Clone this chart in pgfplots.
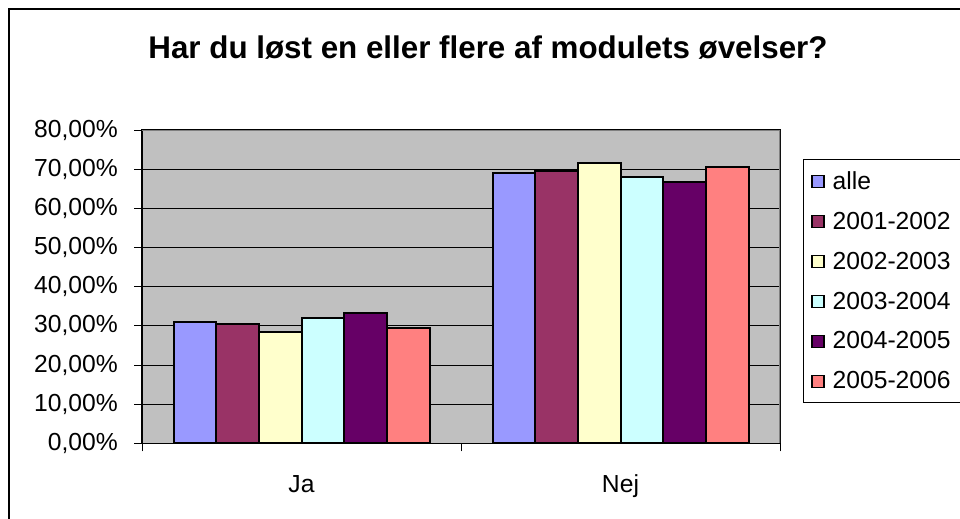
\documentclass[border=0pt]{standalone}
\usepackage{pgfplots}
\pgfplotsset{compat=1.18}
\usepackage{fontspec}
\setmainfont{Liberation Sans}
\definecolor{c1}{HTML}{9999FF}
\definecolor{c2}{HTML}{993366}
\definecolor{c3}{HTML}{FFFFCC}
\definecolor{c4}{HTML}{CCFFFF}
\definecolor{c5}{HTML}{660066}
\definecolor{c6}{HTML}{FF8080}
\definecolor{bgray}{HTML}{C0C0C0}
\definecolor{bord}{HTML}{808080}
\begin{document}
\begin{tikzpicture}[x=0.75pt,y=0.75pt]
\useasboundingbox (0,0) rectangle (960,518);
\clip (0,0) rectangle (960,518);
\draw[line width=1.6pt] (9,-10) -- (9,509) -- (975,509);
\node[anchor=base,font=\bfseries\fontsize{23.5}{28}\selectfont] at (488,459) {Har du løst en eller flere af modulets øvelser?};
\begin{axis}[
  at={(106.5pt,56pt)}, anchor=south west,
  scale only axis, width=478.5pt, height=235pt,
  ybar=0pt, bar width=32pt,
  xmin=-0.5, xmax=1.5, ymin=0, ymax=80,
  ytick={0,10,...,80},
  xtick={-0.5,0.5,1.5}, xticklabels={},
  extra x ticks={0,1}, extra x tick labels={Ja,Nej},
  extra x tick style={major tick length=0pt, grid=none},
  xtick pos=bottom, ytick pos=left,
  tick align=outside, major tick length=6pt,
  tick style={black, line width=0.75pt},
  ymajorgrids, grid style={black, line width=0.75pt},
  axis background/.style={fill=bgray},
  axis line style={black, line width=0.9pt},
  font=\fontsize{18.5}{22}\selectfont,
  /pgf/number format/assume math mode=true,
  yticklabel={\pgfmathprintnumber[fixed,fixed zerofill,precision=2,use comma]{\tick}\%},
  yticklabel style={anchor=east, inner sep=0pt, xshift=-12pt},
  xticklabel style={anchor=base, inner sep=0pt, yshift=-37pt},
  legend style={at={(1.036,0.9075)}, anchor=north west, draw=black, line width=0.75pt,
    fill=white, font=\fontsize{18.5}{22}\selectfont, row sep=11.5pt, column sep=4pt,
    inner xsep=6pt, inner ysep=7pt},
  legend cell align=left,
  legend image code/.code={\draw[#1,draw=black,line width=0.9pt] (0pt,-4.5pt) rectangle (9pt,4.5pt);},
]
\addplot[fill=c1,draw=black,line width=1.5pt] coordinates {(0,30.9) (1,69.1)};
\addplot[fill=c2,draw=black,line width=1.5pt] coordinates {(0,30.4) (1,69.6)};
\addplot[fill=c3,draw=black,line width=1.5pt] coordinates {(0,28.5) (1,71.5)};
\addplot[fill=c4,draw=black,line width=1.5pt] coordinates {(0,31.9) (1,68.1)};
\addplot[fill=c5,draw=black,line width=1.5pt] coordinates {(0,33.4) (1,66.6)};
\addplot[fill=c6,draw=black,line width=1.5pt] coordinates {(0,29.4) (1,70.6)};
\legend{alle,2001-2002,2002-2003,2003-2004,2004-2005,2005-2006}
\draw[bord, line width=0.9pt] (rel axis cs:0,1) -- (rel axis cs:1,1) -- (rel axis cs:1,0);
\end{axis}
\end{tikzpicture}
\end{document}
